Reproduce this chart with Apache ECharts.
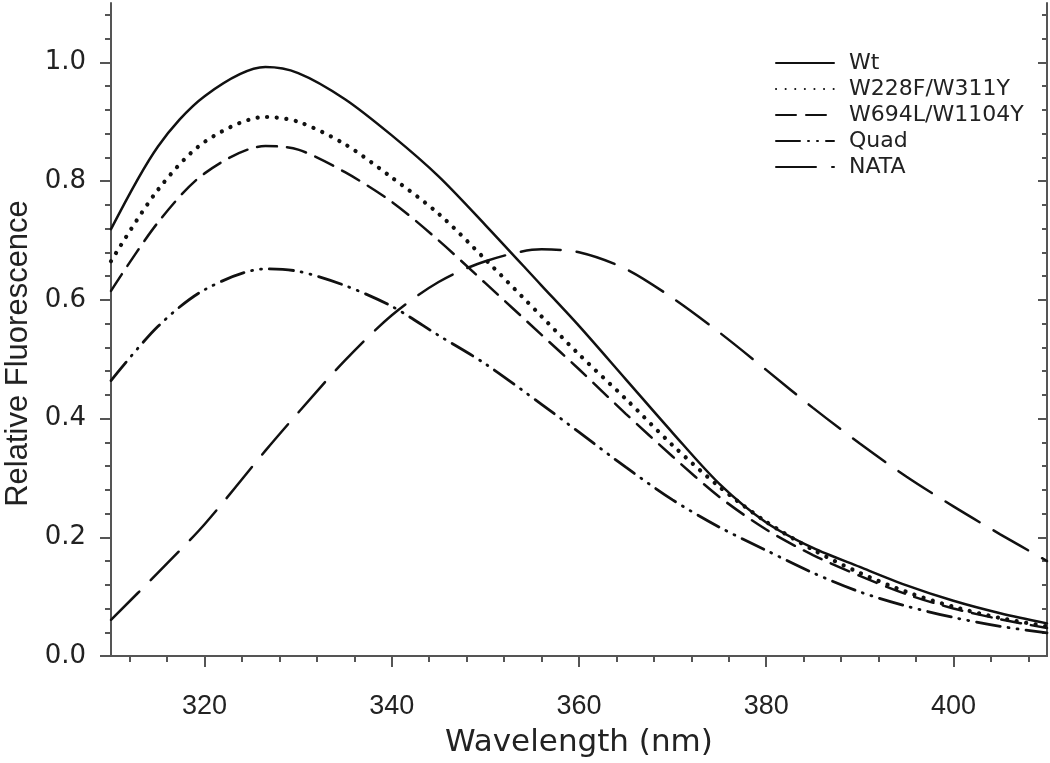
<!DOCTYPE html>
<html>
<head>
<meta charset="utf-8">
<script src="https://cdn.jsdelivr.net/npm/echarts@6/dist/echarts.min.js"></script>
<style>
  html, body { margin: 0; padding: 0; background: #fff; }
  #chart { width: 1050px; height: 763px; }
</style>
</head>
<body>
<div id="chart"></div>
<script>
// wavelength grid (nm); 326.5 and 356 sit on the emission maxima
const wavelength = [310, 315, 320, 326.5, 330, 335, 340, 345, 350, 356, 360,
  365, 370, 375, 380, 385, 390, 395, 400, 405, 410];

// relative fluorescence
const wt = [0.719, 0.858, 0.943, 0.992, 0.982, 0.938, 0.877, 0.808, 0.726, 0.624, 0.556,
  0.466, 0.376, 0.290, 0.225, 0.182, 0.150, 0.119, 0.093, 0.072, 0.055];
const w228f = [0.665, 0.785, 0.866, 0.908, 0.900, 0.862, 0.806, 0.745, 0.668, 0.572, 0.508,
  0.433, 0.355, 0.285, 0.226, 0.179, 0.140, 0.108, 0.083, 0.064, 0.050];
const w694l = [0.615, 0.730, 0.813, 0.859, 0.853, 0.815, 0.765, 0.700, 0.628, 0.541, 0.483,
  0.408, 0.336, 0.268, 0.213, 0.170, 0.135, 0.104, 0.080, 0.062, 0.047];
const quad = [0.464, 0.555, 0.617, 0.652, 0.648, 0.624, 0.589, 0.540, 0.492, 0.424, 0.377,
  0.318, 0.263, 0.217, 0.178, 0.140, 0.108, 0.084, 0.065, 0.050, 0.039];
const nata = [0.061, 0.140, 0.222, 0.346, 0.410, 0.498, 0.574, 0.630, 0.665, 0.685, 0.680,
  0.652, 0.603, 0.545, 0.482, 0.418, 0.358, 0.302, 0.252, 0.205, 0.160];

// axis ticks
const xMajor = [320, 340, 360, 380, 400];
const yMajor = [0, 0.2, 0.4, 0.6, 0.8, 1.0];
const xMinor = [];
for (let v = 312; v <= 408; v += 4) if (v % 20 !== 0) xMinor.push(v);
const yMinor = [];
for (let i = 1; i <= 27; i++) if (i % 5 !== 0) yMinor.push(+(i * 0.04).toFixed(2));

const AXIS_COLOR = "#555";
const INK = "#111";
const TEXT = "#222";
const SANS = "Liberation Sans";
const WIDE = "DejaVu Sans";

const curves = [
  { name: "Wt", data: wt, type: "solid", width: 2.5 },
  { name: "W228F/W311Y", data: w228f, type: [0.1, 9.5], width: 4.2 },
  { name: "W694L/W1104Y", data: w694l, type: [20, 10], width: 2.5 },
  { name: "Quad", data: quad, type: [24, 8, 1, 8, 1, 8], width: 2.8 },
  { name: "NATA", data: nata, type: [40, 16], width: 2.5 },
];

const baseX = { type: "value", min: 310, max: 410, splitLine: { show: false } };
const baseY = { type: "value", min: 0, max: 1.1, splitLine: { show: false } };
const line = { show: true, lineStyle: { color: AXIS_COLOR, width: 2 } };
const tick = (values, len, inside) => ({
  customValues: values,
  length: len,
  inside: inside,
  lineStyle: { color: AXIS_COLOR, width: 2 },
});

const option = {
  animation: false,
  backgroundColor: "#fff",
  grid: { left: 111, right: 3, top: 3, bottom: 107, outerBoundsMode: "none" },
  legend: {
    orient: "vertical",
    left: 775,
    top: 52,
    padding: 0,
    itemWidth: 58,
    itemHeight: 14,
    itemGap: 4,
    itemStyle: { opacity: 0 },
    textStyle: { fontFamily: WIDE, fontSize: 22, lineHeight: 22, color: TEXT, padding: [0, 0, 0, 10] },
    data: curves.map((c) => c.name),
  },
  xAxis: [
    {
      ...baseX,
      position: "bottom",
      axisLine: line,
      axisTick: tick(xMajor, 11, false),
      axisLabel: { customValues: xMajor, margin: 37, fontFamily: SANS, fontSize: 27, color: TEXT },
      name: "Wavelength (nm)",
      nameLocation: "middle",
      nameGap: 71,
      nameTextStyle: { fontFamily: WIDE, fontSize: 31, color: TEXT },
    },
    { ...baseX, position: "bottom", axisLine: { show: false }, axisTick: tick(xMinor, 6, false), axisLabel: { show: false } },
    { ...baseX, position: "top", axisLine: line, axisTick: tick(xMajor, 9, true), axisLabel: { show: false } },
    { ...baseX, position: "top", axisLine: { show: false }, axisTick: tick(xMinor, 5, true), axisLabel: { show: false } },
  ],
  yAxis: [
    {
      ...baseY,
      position: "left",
      axisLine: line,
      axisTick: tick(yMajor, 11, false),
      axisLabel: {
        customValues: yMajor,
        margin: 25,
        fontFamily: WIDE,
        fontSize: 26,
        color: TEXT,
        formatter: (v) => v.toFixed(1),
      },
      name: "Relative Fluorescence",
      nameLocation: "middle",
      nameGap: 72,
      nameTextStyle: { fontFamily: SANS, fontSize: 31, color: TEXT, padding: [0, 48, 0, 0] },
    },
    { ...baseY, position: "left", axisLine: { show: false }, axisTick: tick(yMinor, 6, false), axisLabel: { show: false } },
    { ...baseY, position: "right", axisLine: line, axisTick: tick(yMajor, 9, true), axisLabel: { show: false } },
    { ...baseY, position: "right", axisLine: { show: false }, axisTick: tick(yMinor, 5, true), axisLabel: { show: false } },
  ],
  series: curves.map((c) => ({
    name: c.name,
    type: "line",
    xAxisIndex: 0,
    yAxisIndex: 0,
    smooth: 0.3,
    symbol: "none",
    data: wavelength.map((x, i) => [x, c.data[i]]),
    lineStyle: { color: INK, width: c.width, type: c.type, cap: "round" },
    itemStyle: { color: INK },
  })),
};

const chart = echarts.init(document.getElementById("chart"));
chart.setOption(option);
window.onresize = () => chart.resize();
</script>
</body>
</html>
